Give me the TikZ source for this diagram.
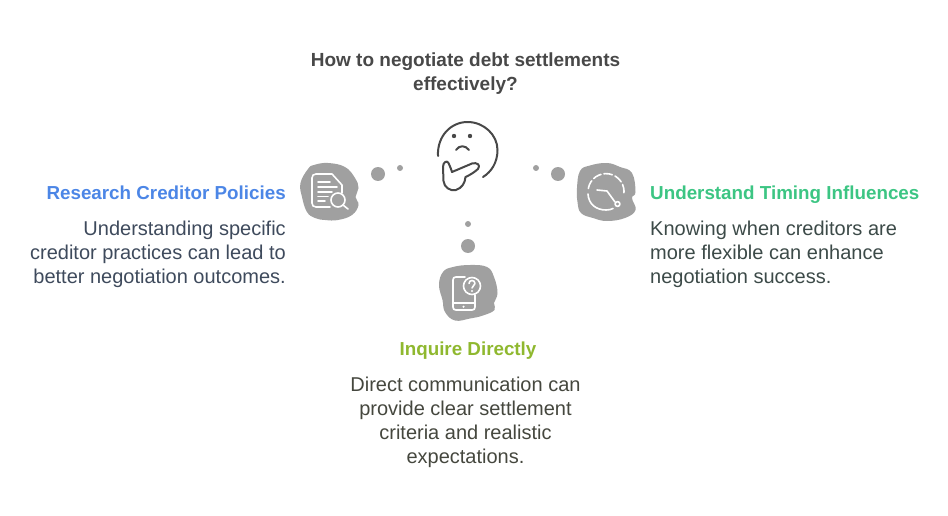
\documentclass[tikz,border=0pt]{standalone}
\usepackage{fontspec}
\setmainfont{Liberation Sans}
\definecolor{blob}{HTML}{A0A0A0}
\definecolor{ink}{HTML}{484848}
\definecolor{hblue}{HTML}{4C86E6}
\definecolor{hgreen}{HTML}{3CC583}
\definecolor{holive}{HTML}{8FB82F}
\definecolor{bodyblue}{HTML}{3E4A5C}
\definecolor{bodygreen}{HTML}{3C4A48}
\definecolor{bodyolive}{HTML}{45473E}
\tikzset{
  titletext/.style={font=\fontsize{19}{24}\selectfont\bfseries,text=ink,align=center,inner sep=0pt},
  headtext/.style={font=\fontsize{18.8}{24}\selectfont\bfseries,inner sep=0pt},
  bodytext/.style={font=\fontsize{20}{24}\selectfont,inner sep=0pt},
  dotmark/.style={circle,fill=blob,draw=none,inner sep=0pt,minimum size=#1},
  blobshape/.style={fill=blob,draw=none},
  iconline/.style={draw=white,line width=1.6pt,line cap=round,line join=round,fill=none},
  faceline/.style={draw=ink,line width=2pt,line cap=round,line join=round,fill=none}
}
\begin{document}
\begin{tikzpicture}[x=1pt,y=-1pt]
\useasboundingbox (0,0) rectangle (948,516);
% title
\node[titletext] (title) at (465.5,73.5) {How to negotiate debt settlements\\effectively?};
% dots
\node[dotmark=14pt] (dl1) at (378,174) {};
\node[dotmark=6pt] (dl2) at (400,168) {};
\node[dotmark=6pt] (dr2) at (536,168) {};
\node[dotmark=14pt] (dr1) at (558,174) {};
\node[dotmark=6pt] (dm2) at (468,224) {};
\node[dotmark=14pt] (dm1) at (468,246) {};
% thinking face
\draw[faceline] (438,156) .. controls (437,136) and (451,122) .. (467.5,122) .. controls (484,122) and (497.5,135) .. (497.5,150) .. controls (497.5,163) and (491,172) .. (483,177);
\fill[ink] (454,136) circle (2.2);
\fill[ink] (470,136) circle (2.2);
\draw[faceline] (456,150) .. controls (459.5,145) and (465,145) .. (469,150);
\draw[faceline] (448.5,163) .. controls (450,166) and (451,169) .. (452,172) -- (472,163.5) .. controls (477,162) and (481,165) .. (478,169) .. controls (474,172.5) and (470,175) .. (465.5,177) .. controls (465,183) and (462,188) .. (456,190) .. controls (450,191.5) and (444,187) .. (443.5,181) -- (443,167) .. controls (443,162) and (447,160) .. (448.5,163);
% left blob
\path[blobshape] plot[smooth cycle,tension=0.7] coordinates {(300.5,183) (308,169) (314,165) (328,163) (345,167) (355,178) (358.5,188) (355.5,197) (358.5,205) (352,215) (338,220) (325,220) (315,218) (307,212) (302,197)};
\draw[iconline] (342,193) -- (342,185) -- (332,174) -- (316,174) .. controls (313.5,174) and (312,175.5) .. (312,178) -- (312,203) .. controls (312,205.5) and (313.5,207) .. (316,207) -- (330,207);
\draw[iconline] (318,182) -- (330,182) (318,187) -- (337,187) (318,192) -- (332,192) (318,196.5) -- (328,196.5) (318,201) -- (325,201);
\draw[iconline] (338,200) circle (7);
\draw[iconline] (343,205) -- (348,209);
% right blob
\path[blobshape] plot[smooth cycle,tension=0.7] coordinates {(577,188) (580,171) (590,165.5) (607,163) (620,167) (632,173) (635.5,192) (632,198) (635.5,210) (625,218) (607,221) (593,218) (581,213) (577.5,202)};
\draw[iconline,dash pattern=on 8.5pt off 3pt] (588.3,188.5) arc[start angle=-170,end angle=10,radius=18];
\draw[iconline] (588,194) .. controls (588.5,204) and (596,210) .. (606,210) .. controls (609,210) and (611,209.5) .. (613,208.5);
\draw[iconline] (597,190) -- (607,191) -- (615,202);
\draw[iconline] (617.5,204) circle (2.4);
% middle blob
\path[blobshape] plot[smooth cycle,tension=0.7] coordinates {(439,285) (443,272) (453,267) (470,265) (487,267) (494,277) (497.5,293) (494,303) (494.5,310) (483,315.5) (470,318.5) (455,320.5) (445,312) (442.5,300)};
\draw[iconline] (475,295) -- (475,307) .. controls (475,309) and (474,310) .. (472,310) -- (456,310) .. controls (454,310) and (453,309) .. (453,307) -- (453,280) .. controls (453,278) and (454,277) .. (456,277) -- (465,277);
\draw[iconline] (453,303) -- (475,303);
\fill[white] (463.5,306.7) circle (1.2);
\draw[iconline] (472,286) circle (8.5);
\draw[iconline] (469,283.5) .. controls (469,279.5) and (475,279.5) .. (475,283.5) .. controls (475,286) and (472,285.5) .. (472,288);
\fill[white] (472,291) circle (1.1);
% left text
\node[headtext,text=hblue,anchor=base east] (lh) at (286,199) {Research Creditor Policies};
\node[bodytext,text=bodyblue,anchor=base east] (lb1) at (286,235) {Understanding specific};
\node[bodytext,text=bodyblue,anchor=base east] (lb2) at (286,259) {creditor practices can lead to};
\node[bodytext,text=bodyblue,anchor=base east] (lb3) at (286,283) {better negotiation outcomes.};
% right text
\node[headtext,text=hgreen,anchor=base west] (rh) at (650,199) {Understand Timing Influences};
\node[bodytext,text=bodygreen,anchor=base west] (rb1) at (650,235) {Knowing when creditors are};
\node[bodytext,text=bodygreen,anchor=base west] (rb2) at (650,259) {more flexible can enhance};
\node[bodytext,text=bodygreen,anchor=base west] (rb3) at (650,283) {negotiation success.};
% middle text
\node[headtext,text=holive,anchor=base] (mh) at (468,355) {Inquire Directly};
\node[bodytext,text=bodyolive,anchor=base] (mb1) at (465.5,391) {Direct communication can};
\node[bodytext,text=bodyolive,anchor=base] (mb2) at (465.5,415) {provide clear settlement};
\node[bodytext,text=bodyolive,anchor=base] (mb3) at (465.5,439) {criteria and realistic};
\node[bodytext,text=bodyolive,anchor=base] (mb4) at (465.5,463) {expectations.};
\end{tikzpicture}
\end{document}
